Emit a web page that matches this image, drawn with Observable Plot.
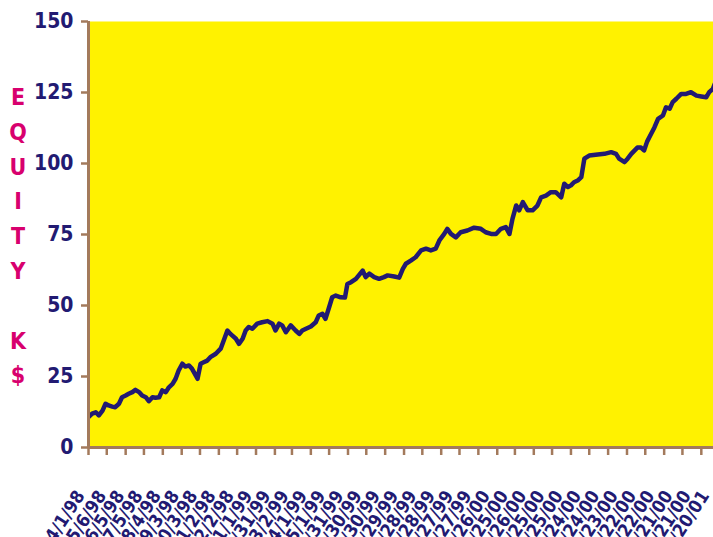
<!DOCTYPE html>
<html>
<head>
<meta charset="utf-8">
<script src="https://cdn.jsdelivr.net/npm/d3@7"></script>
<script src="https://cdn.jsdelivr.net/npm/@observablehq/plot@0.6"></script>
<style>
  html, body { margin: 0; padding: 0; background: #ffffff; }
  #wrap { position: relative; width: 713px; height: 537px; overflow: hidden; }
  #ylabel {
    position: absolute; left: 0; top: 80px; width: 36px;
    font-family: "Liberation Sans Narrow", "DejaVu Sans Condensed", "Liberation Sans", sans-serif;
    font-weight: bold; font-size: 23px; line-height: 34.8px;
    color: #d8006e; text-align: center; white-space: pre;
  }
</style>
</head>
<body>
<div id="wrap"><div id="ylabel"></div></div>
<script>
// ---- data ----
const startDay = "1998-04-01";
const dayOffsets = [0,6,12,17,23,28,33,39,44,50,55,61,66,72,77,83,88,94,99,105,110,116,121,127,132,138,143,148,154,159,165,170,176,179,184,189,195,200,209,217,222,228,233,242,247,253,258,263,269,277,285,294,302,307,313,318,324,332,340,346,351,357,365,373,378,384,389,395,400,406,414,421,425,431,439,450,455,461,469,477,485,491,502,510,516,521,529,537,546,554,562,570,576,584,589,595,603,611,622,633,644,652,661,669,677,685,691,696,702,707,713,721,729,737,743,751,759,767,776,781,787,792,797,803,809,814,822,836,847,858,866,871,880,885,891,901,907,912,917,923,929,935,943,948,954,959,965,973,981,989,998,1006,1014,1019,1025,1028];
const equity = [10.7,11.9,12.4,11.3,13.0,15.4,14.8,14.4,14.2,15.4,17.7,18.3,18.9,19.5,20.3,19.5,18.3,17.7,16.3,17.7,17.5,17.7,20.1,19.5,21.2,22.4,24.2,27.1,29.5,28.5,28.9,27.7,25.4,24.2,29.5,30.0,30.6,31.8,33.0,34.8,37.7,41.2,40.0,38.3,36.5,38.3,41.2,42.4,41.8,43.6,44.1,44.5,43.6,41.2,43.6,43.0,40.6,43.0,41.2,40.0,41.2,41.8,42.6,44.1,46.5,47.1,45.3,49.4,52.9,53.5,52.9,52.8,57.6,58.2,59.4,62.3,60.0,61.2,60.0,59.4,60.0,60.6,60.2,59.8,62.9,64.7,65.8,67.0,69.4,70.0,69.4,70.0,72.9,75.2,77.0,75.2,74.0,75.8,76.4,77.4,77.0,75.8,75.2,75.2,77.0,77.6,75.2,80.5,85.2,83.5,86.4,83.5,83.5,85.2,88.1,88.7,89.9,89.9,88.1,92.9,91.7,92.3,93.4,94.0,95.2,101.7,102.8,103.2,103.4,104.0,103.4,101.7,100.5,101.7,103.4,105.6,105.6,104.6,107.7,110.2,112.7,115.7,116.9,119.8,119.3,121.6,122.8,124.5,124.5,125.1,123.9,123.6,123.3,125.1,126.3,128.0];
const yTicks = [0, 25, 50, 75, 100, 125, 150];
const xLabels = ["4/1/98","5/6/98","6/5/98","7/5/98","8/4/98","9/3/98","10/3/98","11/2/98","12/2/98","1/1/99","1/31/99","3/2/99","4/1/99","5/1/99","5/31/99","6/30/99","7/30/99","8/29/99","9/28/99","10/28/99","11/27/99","12/27/99","1/26/00","2/25/00","3/26/00","4/25/00","5/25/00","6/24/00","7/24/00","8/23/00","9/22/00","10/22/00","11/21/00","12/21/00","1/20/01"];
const axisTitle = ["E","Q","U","I","T","Y","","K","$"];

// ---- build ----
const DAY = 864e5;
const t0 = new Date(startDay + "T00:00:00Z").getTime();
const series = dayOffsets.map((d, i) => ({date: new Date(t0 + d * DAY), value: equity[i]}));
const parseLabel = d3.utcParse("%m/%d/%y");
const labelData = xLabels.map(s => ({date: parseLabel(s), text: s}));
const xStart = new Date(t0), xEnd = new Date(t0 + 1026 * DAY);
const monthTicks = d3.utcMonth.range(xStart, xEnd);

const FONT = '"Liberation Sans Narrow", "DejaVu Sans Condensed", "Liberation Sans", sans-serif';
const NAVY = "#221a72", BROWN = "#a37a5c", YELLOW = "#fff200";

const chart = Plot.plot({
  width: 713, height: 537,
  marginLeft: 88, marginRight: 0, marginTop: 21, marginBottom: 90,
  style: {fontFamily: FONT, background: "transparent", overflow: "visible"},
  x: {type: "utc", domain: [xStart, xEnd], axis: null},
  y: {domain: [0, 150], axis: null},
  marks: [
    Plot.frame({fill: YELLOW, stroke: "none"}),
    Plot.line(series, {x: "date", y: "value", stroke: NAVY, strokeWidth: 4.5, strokeLinejoin: "round", clip: true}),
    Plot.axisY(yTicks, {anchor: "left", label: null, tickSize: 7, tickPadding: 8, stroke: BROWN, strokeWidth: 2.5,
      fill: NAVY, fontSize: 21, fontWeight: "bold", tickFormat: d => d}),
    Plot.axisX(monthTicks, {anchor: "bottom", label: null, tickSize: 8, tickFormat: () => "", stroke: BROWN, strokeWidth: 2.5}),
    Plot.ruleX([xStart], {stroke: BROWN, strokeWidth: 3}),
    Plot.ruleY([0], {stroke: BROWN, strokeWidth: 3}),
    Plot.text(labelData, {x: "date", frameAnchor: "bottom", lineAnchor: "bottom", text: "text", rotate: -57, textAnchor: "end",
      dx: -3, dy: 48, fill: NAVY, fontSize: 18, fontWeight: "bold"})
  ]
});
chart.style.position = "absolute";
chart.style.left = "0px";
chart.style.top = "0px";
const wrap = document.getElementById("wrap");
wrap.insertBefore(chart, wrap.firstChild);
document.getElementById("ylabel").textContent = axisTitle.join("\n");
</script>
</body>
</html>
